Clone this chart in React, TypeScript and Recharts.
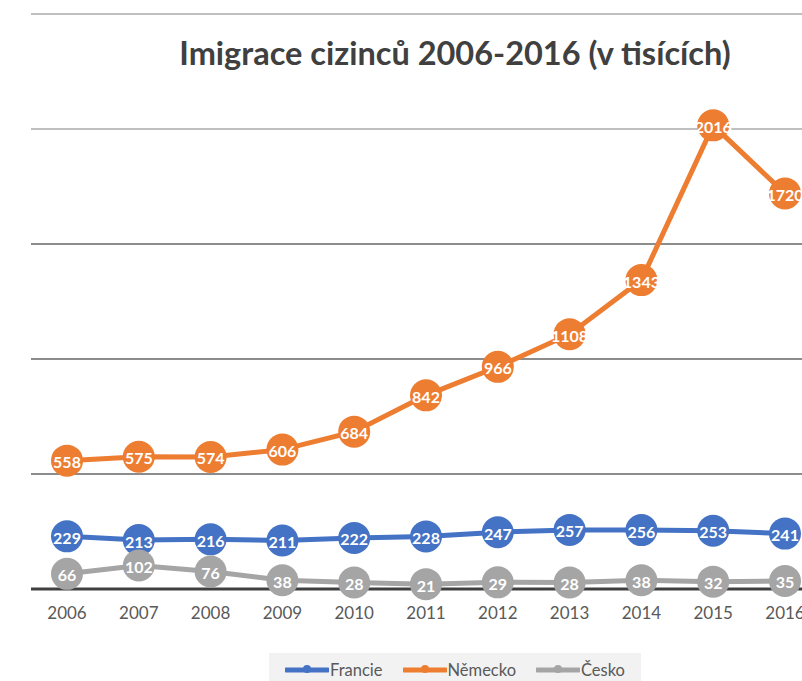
import React from 'react';
import { LineChart, Line, XAxis, YAxis, ReferenceLine } from 'recharts';

const years = ['2006', '2007', '2008', '2009', '2010', '2011', '2012', '2013', '2014', '2015', '2016'];
const francie = [229, 213, 216, 211, 222, 228, 247, 257, 256, 253, 241];
const nemecko = [558, 575, 574, 606, 684, 842, 966, 1108, 1343, 2016, 1720];
const cesko = [66, 102, 76, 38, 28, 21, 29, 28, 38, 32, 35];
const yTicks = [0, 500, 1000, 1500, 2000, 2500];
const title = 'Imigrace cizinců 2006-2016 (v tisících)';

const series = [
  { key: 'francie', name: 'Francie', color: '#4472C4' },
  { key: 'nemecko', name: 'Německo', color: '#ED7D31' },
  { key: 'cesko', name: 'Česko', color: '#A5A5A5' },
];

const data = years.map((y, i) => ({ year: y, francie: francie[i], nemecko: nemecko[i], cesko: cesko[i] }));

const gridStyle: Record<number, { stroke: string; w: number }> = {
  500: { stroke: '#1a1a1a', w: 1.2 },
  1000: { stroke: '#8c8c8c', w: 2 },
  1500: { stroke: '#8c8c8c', w: 2 },
  2000: { stroke: '#bfbfbf', w: 2 },
  2500: { stroke: '#bfbfbf', w: 2 },
};

const FONT = 'Lato, "Open Sans", sans-serif';

const renderLabel = (props: any) => {
  const { x, y, value } = props;
  return (
    <text x={x} y={y} dy={1} textAnchor="middle" dominantBaseline="central" fill="#ffffff" fontSize={16} fontWeight={700} fontFamily={FONT}>
      {value}
    </text>
  );
};

export default function App() {
  return (
    <div style={{ position: 'absolute', left: 0, top: 0, width: 802, height: 681, overflow: 'hidden', background: '#fff', fontFamily: FONT }}>
      <div style={{ position: 'absolute', left: 0, top: 33, width: 910, textAlign: 'center', fontSize: 32.5, fontWeight: 700, color: '#404040', whiteSpace: 'nowrap' }}>
        {title}
      </div>
      <LineChart width={860} height={681} data={data} margin={{ top: 14, right: 39, left: 31, bottom: 52 }}>
        {yTicks.filter((t) => t > 0).map((t) => (
          <ReferenceLine key={t} y={t} stroke={gridStyle[t].stroke} strokeWidth={gridStyle[t].w} ifOverflow="visible" />
        ))}
        <YAxis hide domain={[0, 2500]} ticks={yTicks} />
        <XAxis
          dataKey="year"
          padding={{ left: 36, right: 36 }}
          axisLine={{ stroke: '#404040', strokeWidth: 3 }}
          tickLine={false}
          height={40}
          tick={{ fill: '#595959', fontSize: 17, fontFamily: FONT }}
          tickMargin={12}
          interval={0}
        />
        {series.map((s) => (
          <Line
            key={s.key}
            dataKey={s.key}
            name={s.name}
            stroke={s.color}
            strokeWidth={5}
            isAnimationActive={false}
            dot={{ r: 16, fill: s.color, stroke: s.color, strokeWidth: 0 }}
            activeDot={false}
            label={renderLabel}
          />
        ))}
      </LineChart>
      <div style={{ position: 'absolute', left: 269, top: 653, width: 372, height: 40, background: '#f2f2f2', display: 'flex', alignItems: 'flex-start', justifyContent: 'center', paddingTop: 7, boxSizing: 'border-box', fontSize: 16.5, color: '#595959' }}>
        {series.map((s, i) => (
          <div key={s.key} style={{ display: 'flex', alignItems: 'center', marginRight: i < series.length - 1 ? 20 : 0 }}>
            <svg width={44} height={12} style={{ marginRight: 1 }}>
              <line x1={1} y1={6} x2={43} y2={6} stroke={s.color} strokeWidth={5} strokeLinecap="round" />
              <circle cx={22} cy={5} r={4} fill={s.color} />
            </svg>
            <span>{s.name}</span>
          </div>
        ))}
      </div>
    </div>
  );
}
